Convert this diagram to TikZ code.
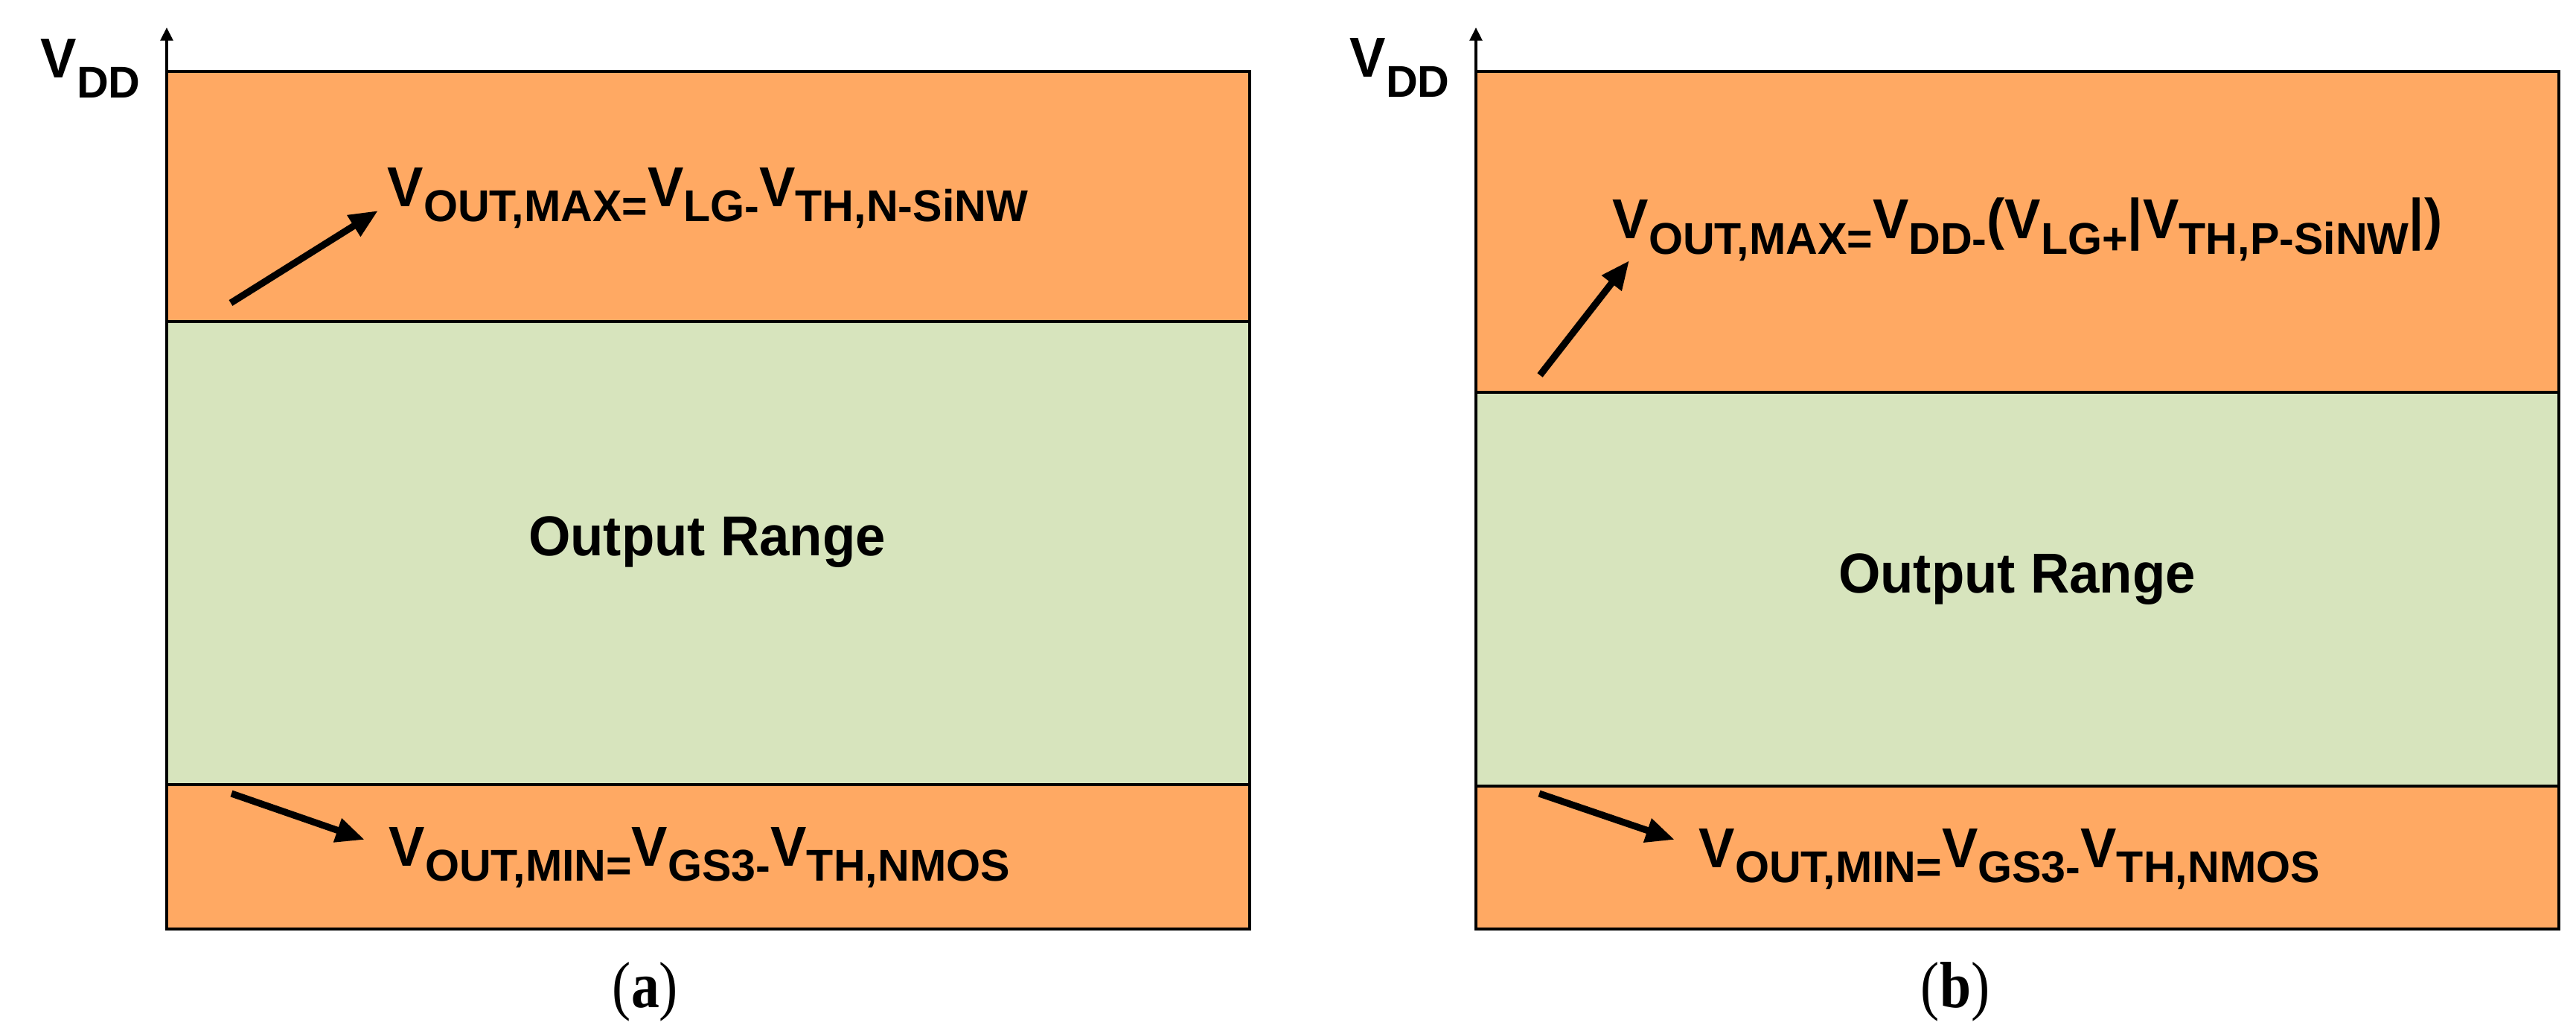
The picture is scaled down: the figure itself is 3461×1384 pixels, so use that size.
\documentclass[tikz,border=0pt]{standalone}
\usepackage{fontspec}
\usetikzlibrary{arrows.meta}
\newfontfamily\labfont{Liberation Sans}[FakeStretch=0.96]
\newfontfamily\sublabfont{Liberation Sans}[FakeStretch=0.99]
\newfontfamily\capfont{Liberation Serif}[FakeStretch=0.86]
\newdimen\pxu \pxu=0.01cm
\newcommand\mainsz{\fontsize{21.5pt}{24pt}\selectfont}
\newcommand\subsz{\sublabfont\bfseries\fontsize{17pt}{19pt}\selectfont}
\newcommand\capsz{\fontsize{25pt}{28pt}\selectfont}
\newcommand\sbs[2]{\raisebox{-#1\pxu}{\subsz #2}}
\definecolor{boxorange}{HTML}{FFA963}
\definecolor{boxgreen}{HTML}{D7E4BD}
\begin{document}
\begin{tikzpicture}[x=0.01cm,y=-0.01cm,
  band/.style={draw=black, line width=1.2pt},
  lbl/.style={font=\labfont\bfseries\mainsz, inner sep=0pt, anchor=base west},
  midlbl/.style={font=\labfont\bfseries\mainsz, inner sep=0pt, anchor=base},
  caplbl/.style={font=\capfont\capsz, inner sep=0pt, anchor=base},
  ptr/.style={line width=2.6pt, -{Triangle[length=11pt,width=9pt]}},
  axisarrow/.style={line width=0.9pt, -{Triangle[length=5pt,width=4.8pt]}}]
\useasboundingbox (0,0) rectangle (3461,1384);
% ---------- panel (a) ----------
\draw[band, fill=boxorange] (224,96) rectangle (1679,432);
\draw[band, fill=boxgreen] (224,432) rectangle (1679,1054);
\draw[band, fill=boxorange] (224,1054) rectangle (1679,1248);
\coordinate (axa0) at (224,96);
\coordinate (axa1) at (224,37);
\draw[axisarrow] (axa0) -- (axa1);
\node[lbl] (vdda) at (54,104) {V\sbs{27}{DD}};
\node[lbl] (vmaxa) at (520,277) {V\sbs{20}{OUT,MAX=}V\sbs{20}{LG-}V\sbs{20}{TH,N-SiNW}};
\node[midlbl] (ora) at (950,746) {Output Range};
\node[lbl] (vmina) at (522,1163) {V\sbs{20}{OUT,MIN=}V\sbs{20}{GS3-}V\sbs{20}{TH,NMOS}};
\coordinate (pa1) at (310,407);
\coordinate (pa2) at (508,283);
\draw[ptr] (pa1) -- (pa2);
\coordinate (pa3) at (311,1066);
\coordinate (pa4) at (490,1128);
\draw[ptr] (pa3) -- (pa4);
\node[caplbl] (capa) at (867,1353) {(\textbf{a})};
% ---------- panel (b) ----------
\draw[band, fill=boxorange] (1983,96) rectangle (3438,527);
\draw[band, fill=boxgreen] (1983,527) rectangle (3438,1056);
\draw[band, fill=boxorange] (1983,1056) rectangle (3438,1248);
\coordinate (axb0) at (1983,96);
\coordinate (axb1) at (1983,37);
\draw[axisarrow] (axb0) -- (axb1);
\node[lbl] (vddb) at (1813,103) {V\sbs{27}{DD}};
\node[lbl] (vmaxb) at (2166,320) {V\sbs{21}{OUT,MAX=}V\sbs{21}{DD-}(V\sbs{21}{LG+}|V\sbs{21}{TH,P-SiNW}|)};
\node[midlbl] (orb) at (2710,796) {Output Range};
\node[lbl] (vminb) at (2282,1165) {V\sbs{20}{OUT,MIN=}V\sbs{20}{GS3-}V\sbs{20}{TH,NMOS}};
\coordinate (pb1) at (2069,504);
\coordinate (pb2) at (2189,350);
\draw[ptr] (pb1) -- (pb2);
\coordinate (pb3) at (2068,1066);
\coordinate (pb4) at (2250,1128);
\draw[ptr] (pb3) -- (pb4);
\node[caplbl] (capb) at (2627,1353) {(\textbf{b})};
\end{tikzpicture}
\end{document}
